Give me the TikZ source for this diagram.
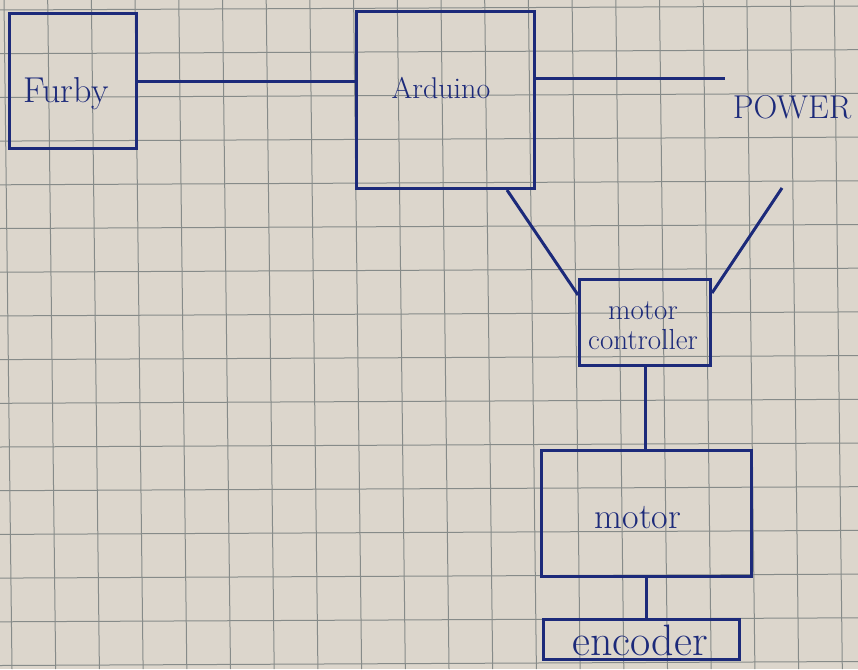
\documentclass[tikz,border=0pt]{standalone}
\definecolor{paper}{HTML}{DCD6CC}
\definecolor{gridc}{HTML}{868B89}
\definecolor{ink}{HTML}{1C2A7A}
\begin{document}
\begin{tikzpicture}[x=1pt,y=-1pt,
  box/.style={draw=ink, line width=3pt, inner sep=0pt, anchor=north west},
  wire/.style={draw=ink, line width=3pt},
  lbl/.style={text=ink, inner sep=0pt, align=center},
  gridline/.style={draw=gridc, line width=1pt}]
\useasboundingbox (0,0) rectangle (858,669);
\fill[paper] (0,0) rectangle (858,669);
\foreach \k in {0,...,19} \draw[gridline] ({4+43.7*\k},0) -- ({12+43.7*\k},669);
\foreach \k in {0,...,15} \draw[gridline] (0,{10+43.7*\k}) -- (858,{6+43.7*\k});

% boxes
\node[box, minimum width=127pt, minimum height=135pt] (furby) at (8,12) {};
\node[box, minimum width=178pt, minimum height=177pt] (arduino) at (355,10) {};
\node[box, minimum width=131pt, minimum height=86pt] (mc) at (578,278) {};
\node[box, minimum width=210pt, minimum height=126pt] (motor) at (540,449) {};
\node[box, minimum width=196pt, minimum height=40pt] (encoder) at (542,618) {};

% labels
\node[lbl, font=\fontsize{36}{40}\selectfont] (tfurby) at (66,94) {Furby};
\node[lbl, font=\fontsize{30}{34}\selectfont] (tarduino) at (441,88) {Arduino};
\node[lbl, font=\fontsize{33}{38}\selectfont] (power) at (792,107) {POWER};
\node[lbl, font=\fontsize{29}{30}\selectfont] (tmc) at (643,326) {motor\\controller};
\node[lbl, font=\fontsize{36}{40}\selectfont] (tmotor) at (638,518) {motor};
\node[lbl, font=\fontsize{44}{48}\selectfont] (tenc) at (640,640) {encoder};

% free ends
\coordinate (pw) at (725,78);
\coordinate (pb) at (782,188);

% connectors
\draw[wire] (furby.east) -- (furby.east -| arduino.west);
\draw[wire] (pw -| arduino.east) -- (pw);
\draw[wire] ([xshift=152pt]arduino.south west) -- ([yshift=-17pt]mc.north west);
\draw[wire] (pb) -- ([yshift=-15pt]mc.north east);
\draw[wire] (mc.south) -- (mc.south |- motor.north);
\draw[wire] (motor.south) -- (motor.south |- encoder.north);
\end{tikzpicture}
\end{document}
